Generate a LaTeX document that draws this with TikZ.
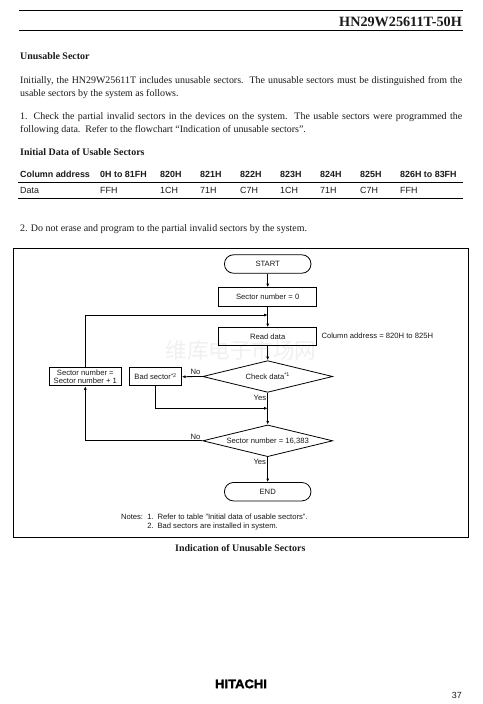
\documentclass[tikz,border=0pt]{standalone}
\usepackage{fontspec}
\setmainfont{Liberation Serif}
\setsansfont{Liberation Sans}
\newfontfamily\cjk{Noto Sans CJK SC}
\usetikzlibrary{shapes.geometric,arrows.meta}
\definecolor{ink}{HTML}{1A1A1A}
\tikzset{
  body/.style={anchor=base west,inner sep=0pt,text=ink,font=\fontsize{9.95}{11}\selectfont},
  bodybold/.style={body,font=\fontsize{9.95}{11}\selectfont\bfseries},
  tablehead/.style={anchor=base west,inner sep=0pt,text=ink,font=\sffamily\bfseries\fontsize{8.9}{10}\selectfont},
  tablecell/.style={anchor=base west,inner sep=0pt,text=ink,font=\sffamily\fontsize{8.9}{10}\selectfont},
  chart/.style={text=ink,font=\sffamily\fontsize{7.65}{9}\selectfont},
  chartlabel/.style={chart,anchor=base west,inner sep=0pt},
  procbox/.style={chart,draw=black,line width=0.8pt,inner sep=0pt,align=center,minimum height=18.2pt},
  term/.style={procbox,rounded corners=9pt,minimum width=86.5pt,minimum height=18.4pt},
  decide/.style={chart,draw=black,line width=0.8pt,diamond,shape aspect=4,inner sep=0pt,minimum width=130pt,minimum height=31.7pt},
  flow/.style={draw=black,line width=0.8pt},
  arrow/.style={flow,-{Latex[length=3.6pt,width=3pt]}},
  pagerule/.style={draw=black,line width=0.7pt},
}
\begin{document}
\begin{tikzpicture}[x=1pt,y=-1pt]
\useasboundingbox (0,0) rectangle (482,704);
\fill[white] (0,0) rectangle (482,704);
% header
\coordinate (r1a) at (19,10.3); \coordinate (r1b) at (463,10.3);
\coordinate (r2a) at (19,30.3); \coordinate (r2b) at (463,30.3);
\draw[pagerule] (r1a) -- (r1b);
\draw[pagerule] (r2a) -- (r2b);
\node[anchor=base east,inner sep=0pt,text=ink,font=\fontsize{14.2}{16}\selectfont\bfseries] (title) at (462,27) {HN29W25611T-50H};
% text
\node[bodybold] (t1) at (20,59) {Unusable Sector};
\node[body] (t2) at (20,83) {\makebox[442pt][s]{Initially, the HN29W25611T includes unusable sectors.\ \ The unusable sectors must be distinguished from the}};
\node[body] (t3) at (20,96.3) {usable sectors by the system as follows.};
\node[body] (t4) at (20,119.3) {\makebox[442pt][s]{1. Check the partial invalid sectors in the devices on the system.\ \ The usable sectors were programmed the}};
\node[body] (t5) at (20,132.6) {following data.\ \ Refer to the flowchart “Indication of unusable sectors”.};
\node[bodybold] (t6) at (20,155.3) {Initial Data of Usable Sectors};
% table
\node[tablehead] (h1) at (20,177.2) {Column address};
\node[tablehead] (h2) at (100,177.2) {0H to 81FH};
\node[tablehead] (h3) at (160,177.2) {820H};
\node[tablehead] (h4) at (200,177.2) {821H};
\node[tablehead] (h5) at (240,177.2) {822H};
\node[tablehead] (h6) at (280,177.2) {823H};
\node[tablehead] (h7) at (320,177.2) {824H};
\node[tablehead] (h8) at (360,177.2) {825H};
\node[tablehead] (h9) at (400,177.2) {826H to 83FH};
\coordinate (r3a) at (18,182.5); \coordinate (r3b) at (463,182.5);
\draw[pagerule] (r3a) -- (r3b);
\node[tablecell] (d1) at (20,193.2) {Data};
\node[tablecell] (d2) at (100,193.2) {FFH};
\node[tablecell] (d3) at (160,193.2) {1CH};
\node[tablecell] (d4) at (200,193.2) {71H};
\node[tablecell] (d5) at (240,193.2) {C7H};
\node[tablecell] (d6) at (280,193.2) {1CH};
\node[tablecell] (d7) at (320,193.2) {71H};
\node[tablecell] (d8) at (360,193.2) {C7H};
\node[tablecell] (d9) at (400,193.2) {FFH};
\coordinate (r4a) at (18,198.2); \coordinate (r4b) at (463,198.2);
\draw[pagerule] (r4a) -- (r4b);
\node[body] (t7) at (20,231) {2. Do not erase and program to the partial invalid sectors by the system.};
% frame
\draw[draw=black,line width=0.8pt] (13.5,248.5) rectangle (468.5,537.5);
% watermark
\node[inner sep=0pt,text=black!6,font=\cjk\fontsize{21.5}{24}\selectfont] (wm) at (241,350.5) {维库电子市场网};
% flowchart nodes
\node[term] (start) at (267.7,264) {START};
\node[procbox,minimum width=98pt] (zero) at (267.7,296.8) {Sector number = 0};
\node[procbox,minimum width=98pt] (read) at (267.7,336.7) {Read data};
\node[decide] (check) at (267.7,376.5) {Check data\textsuperscript{*1}};
\node[procbox,minimum width=52pt] (bad) at (155.5,376.7) {Bad sector\textsuperscript{*2}};
\node[procbox,minimum width=72.7pt,font=\sffamily\fontsize{7.65}{8}\selectfont] (inc) at (85.3,376.7) {Sector number =\\Sector number + 1};
\node[decide] (last) at (267.7,440.8) {Sector number = 16,383};
\node[term] (end) at (267.7,491.7) {END};
% junctions
\coordinate (loop) at (267.7,315);
\coordinate (loopc) at (inc.north |- loop);
\coordinate (merge) at (267.7,408.3);
\coordinate (mergec) at (bad.south |- merge);
\coordinate (backc) at (inc.south |- last.west);
% connectors
\draw[arrow] (start) -- (zero);
\draw[arrow] (zero) -- (read);
\draw[arrow] (read) -- (check);
\draw[arrow] (check.west) -- (bad.east);
\draw[arrow] (check.south) -- (last.north);
\draw[arrow] (last.south) -- (end.north);
\draw[arrow] (inc.north) -- (loopc) -- (loop);
\draw[arrow] (bad.south) -- (mergec) -- (merge);
\draw[arrow] (last.west) -- (backc) -- (inc.south);
% labels
\node[chartlabel] (no1) at (190.3,374) {No};
\node[chartlabel] (yes1) at (253.5,400) {Yes};
\node[chartlabel] (no2) at (190.3,439) {No};
\node[chartlabel] (yes2) at (253.3,464) {Yes};
\node[chartlabel] (col) at (321.3,338.7) {Column address = 820H to 825H};
\node[chartlabel] (n0) at (120.8,519) {Notes:};
\node[chartlabel] (n1) at (147.2,519) {1.};
\node[chartlabel] (n1t) at (157.3,519) {Refer to table "Initial data of usable sectors".};
\node[chartlabel] (n2) at (147.2,528) {2.};
\node[chartlabel] (n2t) at (157.3,528) {Bad sectors are installed in system.};
% caption and footer
\node[anchor=base,inner sep=0pt,text=ink,font=\fontsize{9.95}{11}\selectfont\bfseries] (cap) at (240.3,551.7) {Indication of Unusable Sectors};
\node[anchor=base,inner sep=0pt,text=black,font=\sffamily\bfseries\fontsize{12.4}{13}\selectfont] (logo) at (241,688.2) {\addfontfeature{FakeStretch=1.05,FakeBold=2}HITACHI};
\node[anchor=base east,inner sep=0pt,text=ink,font=\sffamily\fontsize{8.9}{10}\selectfont] (page) at (462,698) {37};
\end{tikzpicture}
\end{document}
